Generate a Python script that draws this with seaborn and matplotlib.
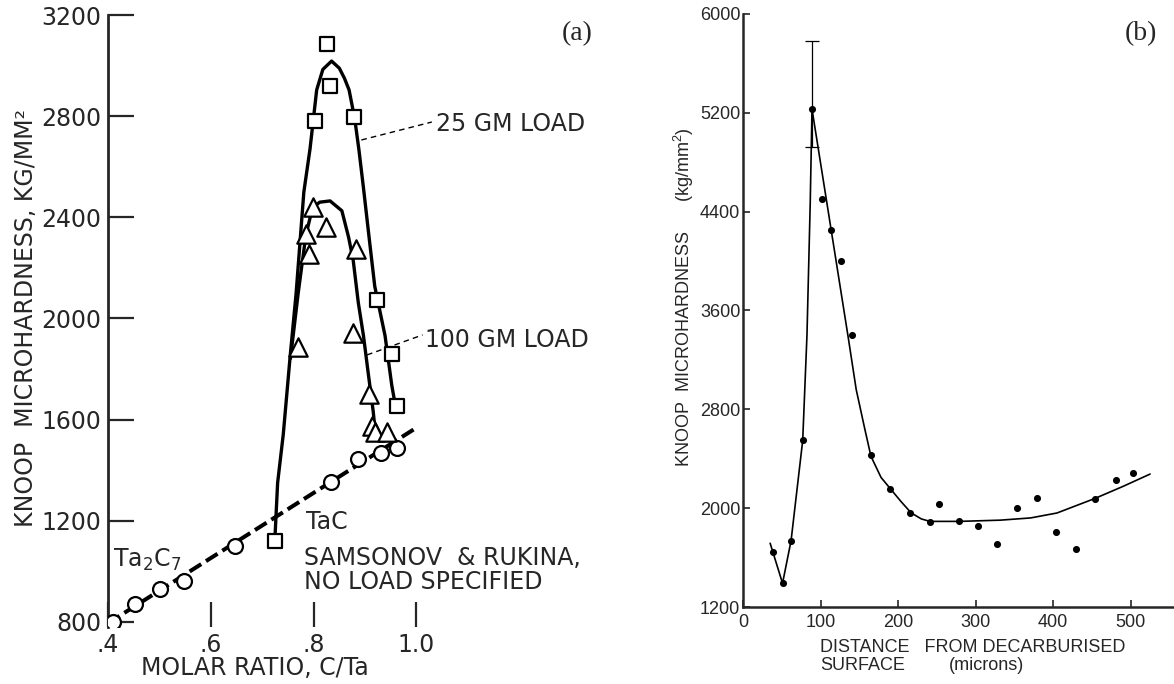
import matplotlib
matplotlib.use("Agg")
import seaborn as sns
import matplotlib.pyplot as plt

# ---------------- panel (a): Knoop hardness vs C/Ta
sq_ratio = [0.7245, 0.803, 0.827, 0.832, 0.879, 0.923, 0.952, 0.962]
sq_hard = [1120, 2780, 3086, 2921, 2795, 2075, 1860, 1652]

tri_ratio = [0.770, 0.786, 0.792, 0.798, 0.825, 0.877, 0.882, 0.908, 0.913, 0.919, 0.943]
tri_hard = [1886, 2335, 2257, 2439, 2361, 1942, 2273, 1700, 1575, 1552, 1552]

circ_ratio = [0.409, 0.452, 0.502, 0.547, 0.647, 0.833, 0.886, 0.932, 0.962]
circ_hard = [800, 870, 930, 960, 1100, 1355, 1443, 1467, 1486]

# dashed Samsonov & Rukina line
sr_ratio = [0.40, 1.00]
sr_hard = [795, 1568]

# hand-drawn curves (25 gm and 100 gm load)
c25_ratio = [0.7245, 0.730, 0.741, 0.754, 0.766, 0.781, 0.793, 0.806, 0.818, 0.835,
             0.850, 0.860, 0.869, 0.880, 0.888, 0.897, 0.908, 0.919, 0.939, 0.952, 0.960]
c25_hard = [1120, 1350, 1542, 1842, 2100, 2500, 2670, 2904, 2985, 3018,
            2990, 2950, 2904, 2790, 2670, 2517, 2320, 2127, 1932, 1737, 1645]

c100_ratio = [0.755, 0.770, 0.785, 0.798, 0.812, 0.832, 0.855, 0.868, 0.877, 0.887,
              0.897, 0.906, 0.916, 0.920]
c100_hard = [1842, 2100, 2330, 2439, 2460, 2465, 2426, 2322, 2231, 2062,
             1932, 1788, 1632, 1550]

a_yticks = [800, 1200, 1600, 2000, 2400, 2800, 3200]
a_xticks = [0.4, 0.6, 0.8, 1.0]
a_xlabels = [".4", ".6", ".8", "1.0"]

# ---------------- panel (b): hardness vs distance from decarburised surface
dist = [39, 51, 62, 77, 89, 101.5, 114, 126.5, 140, 165, 190, 216, 241, 253,
        279, 303, 328, 353, 379, 404, 429, 454, 481, 503]
hard = [1648, 1392, 1737, 2548, 5230, 4500, 4250, 4000, 3400, 2430, 2154, 1959, 1891, 2032,
        1897, 1856, 1713, 2000, 2081, 1810, 1672, 2075, 2229, 2283]

err_x = [89]
err_y = [5230]
err_lo = [310]
err_hi = [550]

fit_dist = [35, 51, 62, 77, 82.5, 86.7, 89, 113, 136, 146, 157, 165, 178, 191, 204,
            217, 230, 241, 279, 332, 371, 405, 454, 490, 525]
fit_hard = [1716, 1392, 1737, 2548, 3400, 4470, 5230, 4280, 3370, 2960, 2643, 2420, 2249,
            2150, 2052, 1961, 1913, 1893, 1893, 1903, 1921, 1961, 2079, 2176, 2276]

b_yticks = [1200, 2000, 2800, 3600, 4400, 5200, 6000]
b_xticks = [0, 100, 200, 300, 400, 500]

sns.set_style("ticks")
plt.rcParams['font.family'] = ['DejaVu Sans']
plt.rcParams['mathtext.default'] = 'regular'

W, H = 1174, 684
fig = plt.figure(figsize=(W / 100, H / 100), dpi=100)


def fx(px):
    return px / W


def fy(py):
    return 1 - py / H


# ======================= panel (a)
ax1 = fig.add_axes([fx(108), fy(627), fx(600 - 108), (627 - 10) / H])
ax1.set_xlim(0.4, 0.4 + 492 / 514)
ax1.set_ylim(780, 3220)

sns.lineplot(x=sr_ratio, y=sr_hard, color='black', lw=2.9, linestyle=(0, (3.4, 1.4)),
             ax=ax1, zorder=2)
sns.lineplot(x=c25_ratio, y=c25_hard, sort=False, estimator=None, color='black', lw=2.4,
             ax=ax1, zorder=2)
sns.lineplot(x=c100_ratio, y=c100_hard, sort=False, estimator=None, color='black', lw=2.4,
             ax=ax1, zorder=2)
sns.scatterplot(x=circ_ratio, y=circ_hard, marker='o', s=115, facecolor='white',
                edgecolor='black', linewidth=1.6, ax=ax1, zorder=3)
sns.scatterplot(x=sq_ratio, y=sq_hard, marker='s', s=115, facecolor='white',
                edgecolor='black', linewidth=1.6, ax=ax1, zorder=3)
sns.scatterplot(x=tri_ratio, y=tri_hard, marker='^', s=175, facecolor='white',
                edgecolor='black', linewidth=1.6, ax=ax1, zorder=3)

for s in ['top', 'right', 'bottom']:
    ax1.spines[s].set_visible(False)
ax1.spines['left'].set_linewidth(2)
ax1.spines['left'].set_bounds(780, 3200)
ax1.set_yticks(a_yticks)
ax1.set_xticks(a_xticks)
ax1.set_xticklabels(a_xlabels)
ax1.tick_params(axis='y', direction='in', length=19, width=1.6, pad=5, labelsize=17)
ax1.tick_params(axis='x', direction='in', length=18, width=1.6, pad=4, labelsize=17)
ax1.set_xlabel('')
ax1.set_ylabel('')

fig.text(fx(255), fy(668), 'MOLAR RATIO, C/Ta', fontsize=17, ha='center', va='center')
fig.text(fx(26), fy(318), 'KNOOP  MICROHARDNESS, KG/MM\u00b2', fontsize=17,
         rotation=90, ha='center', va='center')

# leaders and annotations
ax1.plot([0.893, 1.030], [2706, 2777], color='black', lw=1, linestyle=(0, (4, 3)))
ax1.text(1.039, 2742, '25 GM LOAD', fontsize=17, va='baseline')
ax1.plot([0.904, 1.012], [1856, 1935], color='black', lw=1, linestyle=(0, (4, 3)))
ax1.text(1.017, 1887, '100 GM LOAD', fontsize=17, va='baseline')
ax1.text(0.786, 1168, 'TaC', fontsize=17, va='baseline')
ax1.text(0.409, 1018, 'Ta$_2$C$_7$', fontsize=17, va='baseline')
ax1.text(0.781, 1025, 'SAMSONOV  & RUKINA,', fontsize=17, va='baseline')
ax1.text(0.781, 931, 'NO LOAD SPECIFIED', fontsize=17, va='baseline')

fig.text(fx(577), fy(34), '(a)', fontsize=20, family='Liberation Serif',
         ha='center', va='center')

# ======================= panel (b)
ax2 = fig.add_axes([fx(743), fy(607), fx(1174 - 743), (607 - 14) / H])
ax2.set_xlim(0, (1174 - 743) / 0.7754)
ax2.set_ylim(1200, 6000)

sns.lineplot(x=fit_dist, y=fit_hard, sort=False, estimator=None, color='black', lw=1.2,
             ax=ax2, zorder=2)
sns.scatterplot(x=dist, y=hard, color='black', s=26, edgecolor='black', linewidth=0,
                ax=ax2, zorder=3)
ax2.errorbar(err_x, err_y, yerr=[err_lo, err_hi], fmt='none', ecolor='black',
             elinewidth=0.9, capsize=5, capthick=0.9, zorder=2)

for s in ['top', 'right']:
    ax2.spines[s].set_visible(False)
ax2.spines['left'].set_linewidth(1.8)
ax2.spines['bottom'].set_linewidth(1.8)
ax2.set_yticks(b_yticks)
ax2.set_xticks(b_xticks)
ax2.tick_params(axis='y', direction='in', length=5, width=1.2, pad=2)
ax2.tick_params(axis='x', direction='in', length=5, width=1.2, pad=5)
for lab in ax2.get_xticklabels() + ax2.get_yticklabels():
    lab.set_family('Liberation Sans')
    lab.set_fontsize(13)
ax2.set_xlabel('')
ax2.set_ylabel('')

fig.text(fx(820), fy(648), 'DISTANCE   FROM DECARBURISED', fontsize=13,
         family='Liberation Sans', ha='left', va='center')
fig.text(fx(820), fy(666), 'SURFACE', fontsize=13, family='Liberation Sans',
         ha='left', va='center')
fig.text(fx(949), fy(666), '(microns)', fontsize=13, family='Liberation Sans',
         ha='left', va='center')
fig.text(fx(684), fy(467), 'KNOOP  MICROHARDNESS      (kg/mm$^2$)', fontsize=13,
         family='Liberation Sans', rotation=90, ha='center', va='bottom')

fig.text(fx(1141), fy(34), '(b)', fontsize=20, family='Liberation Serif',
         ha='center', va='center')

fig.savefig('out.png', dpi=100)
